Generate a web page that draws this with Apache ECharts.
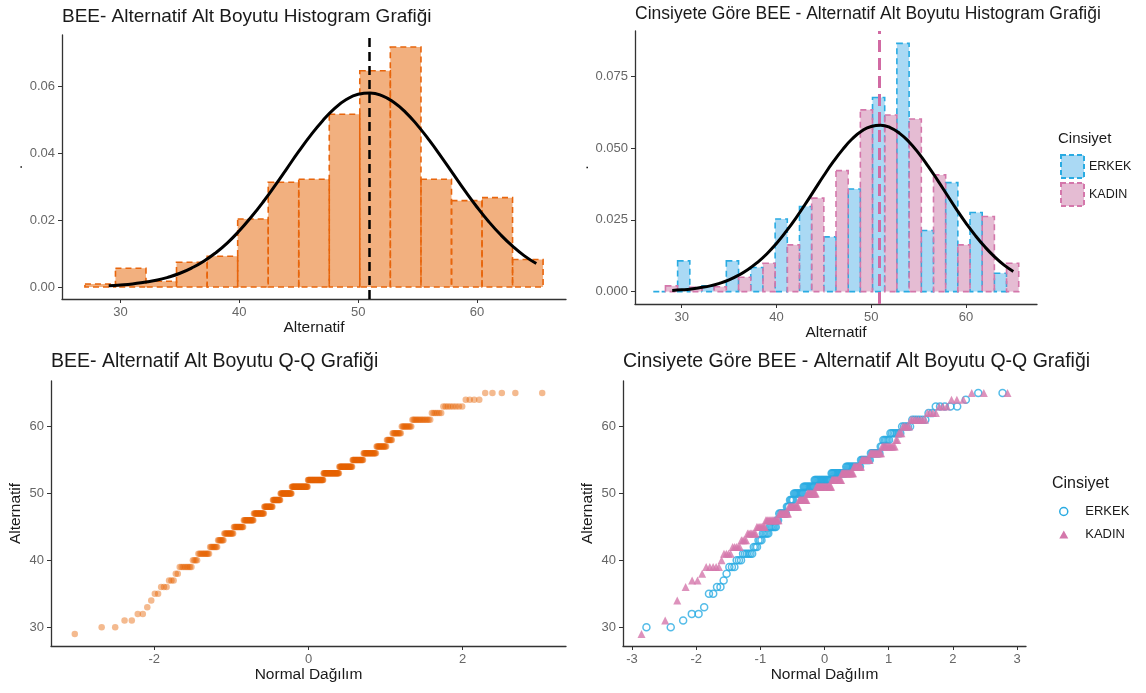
<!DOCTYPE html>
<html>
<head>
<meta charset="utf-8">
<title>BEE - Alternatif Alt Boyutu</title>
<script src="https://cdn.jsdelivr.net/npm/echarts@6/dist/echarts.min.js"></script>
<style>
  html, body { margin: 0; padding: 0; background: #fff; }
  #main { width: 1146px; height: 693px; }
</style>
</head>
<body>
<div id="main"></div>
<script>
// histogram bins on Alternatif (15 bins)
var binEdges = [27.0, 29.57, 32.14, 34.71, 37.29, 39.86, 42.43, 45.0, 47.57, 50.14, 52.71, 55.29, 57.86, 60.43, 63.0, 65.57];
var histDensity  = [0.0009, 0.0056, 0.0017, 0.0074, 0.0092, 0.0203, 0.0313, 0.0322, 0.0516, 0.0646, 0.0717, 0.0322, 0.0258, 0.0267, 0.0082];
var erkekDensity = [0, 0.0107, 0.0020, 0.0107, 0.0084, 0.0253, 0.0297, 0.0191, 0.0358, 0.0677, 0.0866, 0.0213, 0.0380, 0.0276, 0.0064];
var kadinDensity = [0.0020, 0.0015, 0.0017, 0.0050, 0.0099, 0.0163, 0.0326, 0.0422, 0.0634, 0.0616, 0.0602, 0.0407, 0.0163, 0.0262, 0.0099];

var curveX = [29, 30, 31, 32, 33, 34, 35, 36, 37, 38, 39, 40, 41, 42, 43, 44, 45, 46, 47,
              48, 49, 50, 51, 52, 53, 54, 55, 56, 57, 58, 59, 60, 61, 62, 63, 64, 65];
var curveY = [0.0004, 0.0006, 0.0009, 0.0014, 0.0020, 0.0029, 0.0041, 0.0057, 0.0077, 0.0102,
              0.0132, 0.0168, 0.0209, 0.0254, 0.0303, 0.0354, 0.0405, 0.0453, 0.0496, 0.0533,
              0.0560, 0.0576, 0.0580, 0.0572, 0.0552, 0.0522, 0.0483, 0.0438, 0.0389, 0.0338,
              0.0287, 0.0239, 0.0195, 0.0156, 0.0122, 0.0093, 0.0070];
var meanAll = 50.9;

// Q-Q: number of students with each score, by gender
var scores      = [29, 30, 31, 32, 33, 34, 35, 36, 37, 38, 39, 40, 41, 42, 43, 44, 45, 46, 47,
                   48, 49, 50, 51, 52, 53, 54, 55, 56, 57, 58, 59, 60, 61, 62, 63, 64, 65];
var erkekCounts = [0, 2, 1, 2, 1, 0, 2, 2, 1, 1, 3, 3, 6, 3, 3, 5, 6, 2, 7,
                   3, 4, 10, 12, 19, 16, 15, 9, 8, 2, 5, 7, 5, 6, 2, 5, 1, 2];
var kadinCounts = [1, 0, 1, 0, 0, 1, 0, 1, 2, 1, 5, 1, 4, 5, 4, 7, 8, 14, 11,
                   13, 11, 13, 22, 14, 16, 10, 10, 12, 12, 2, 3, 5, 8, 4, 3, 3, 3];

// tick labels
var histXTicks = [30, 40, 50, 60];
var hist1YTicks = [0, 0.02, 0.04, 0.06];
var hist2YTicks = [0, 0.025, 0.05, 0.075];
var qq1XTicks = [-2, 0, 2];
var qq2XTicks = [-3, -2, -1, 0, 1, 2, 3];
var qqYTicks = [30, 40, 50, 60];

var FONT = '"Liberation Sans", Arial, sans-serif';
var BLUE = '#29ABE2', PINK = '#D477AB';

// inverse normal cdf (Acklam) for theoretical quantiles
function qnorm(p) {
  var a = [-39.69683028665376, 220.9460984245205, -275.9285104469687, 138.3577518672690, -30.66479806614716, 2.506628277459239];
  var b = [-54.47609879822406, 161.5858368580409, -155.6989798598866, 66.80131188771972, -13.28068155288572];
  var c = [-0.007784894002430293, -0.3223964580411365, -2.400758277161838, -2.549671010229583, 4.374664141464968, 2.938163982698783];
  var d = [0.007784695709041462, 0.3224671290700398, 2.445134137142996, 3.754408661907416];
  var q, r;
  if (p < 0.02425) {
    q = Math.sqrt(-2 * Math.log(p));
    return (((((c[0]*q+c[1])*q+c[2])*q+c[3])*q+c[4])*q+c[5]) / ((((d[0]*q+d[1])*q+d[2])*q+d[3])*q+1);
  }
  if (p > 1 - 0.02425) {
    q = Math.sqrt(-2 * Math.log(1 - p));
    return -(((((c[0]*q+c[1])*q+c[2])*q+c[3])*q+c[4])*q+c[5]) / ((((d[0]*q+d[1])*q+d[2])*q+d[3])*q+1);
  }
  q = p - 0.5; r = q * q;
  return (((((a[0]*r+a[1])*r+a[2])*r+a[3])*r+a[4])*r+a[5])*q / (((((b[0]*r+b[1])*r+b[2])*r+b[3])*r+b[4])*r+1);
}

function qqPoints(counts) {
  var vals = [];
  counts.forEach(function (c, i) { for (var k = 0; k < c; k++) vals.push(scores[i]); });
  var n = vals.length;
  return vals.map(function (v, i) { return [qnorm((i + 0.5) / n), v]; });
}
var allCounts = scores.map(function (s, i) { return erkekCounts[i] + kadinCounts[i]; });

// [from, to, density] for each bar
function histItems(dens, part) {
  return dens.map(function (h, i) {
    var lo = binEdges[i], hi = binEdges[i + 1], mid = (lo + hi) / 2;
    if (part === 'left') return [lo, mid, h];
    if (part === 'right') return [mid, hi, h];
    return [lo, hi, h];
  });
}
function barRenderer(fill, stroke) {
  return function (params, api) {
    var p0 = api.coord([api.value(0), api.value(2)]);
    var p1 = api.coord([api.value(1), 0]);
    return {
      type: 'rect',
      shape: { x: p0[0], y: p0[1], width: p1[0] - p0[0], height: p1[1] - p0[1] },
      style: { fill: fill, stroke: stroke, lineWidth: 1.6, lineDash: [6, 4] }
    };
  };
}

function axis(grid, min, max, ticks, fmt, extra) {
  var ax = {
    type: 'value', gridIndex: grid, min: min, max: max,
    splitLine: { show: false },
    axisLine: { show: true, onZero: false, lineStyle: { color: '#333', width: 1.3 } },
    axisTick: { show: true, length: 4, customValues: ticks, lineStyle: { color: '#333' } },
    axisLabel: { customValues: ticks, formatter: fmt, color: '#666', fontSize: 13, margin: 7, fontFamily: FONT },
    nameLocation: 'middle',
    nameTextStyle: { color: '#1a1a1a', fontSize: 15.5, fontFamily: FONT }
  };
  for (var k in extra) ax[k] = extra[k];
  return ax;
}
function fixed(n) { return function (v) { return v.toFixed(n); }; }
function plain(v) { return String(v); }

var chart = echarts.init(document.getElementById('main'));

var titleStyle = function (size) {
  return { fontSize: size, fontWeight: 'normal', color: '#1a1a1a', fontFamily: FONT };
};

var option = {
  backgroundColor: '#fff',
  animation: false,
  title: [
    { text: 'BEE- Alternatif Alt Boyutu Histogram Grafiği', left: 62, top: 7, padding: 0, textStyle: titleStyle(19) },
    { text: 'Cinsiyete Göre BEE - Alternatif Alt Boyutu Histogram Grafiği', left: 635, top: 5, padding: 0, textStyle: titleStyle(17.5) },
    { text: 'BEE- Alternatif Alt Boyutu Q-Q Grafiği', left: 51, top: 352, padding: 0, textStyle: titleStyle(19.5) },
    { text: 'Cinsiyete Göre BEE - Alternatif Alt Boyutu Q-Q Grafiği', left: 623, top: 352, padding: 0, textStyle: titleStyle(19.5) },
    { text: 'Cinsiyet', left: 1058, top: 131, padding: 0, textStyle: titleStyle(15) },
    { text: 'Cinsiyet', left: 1052, top: 476, padding: 0, textStyle: titleStyle(16) }
  ],
  legend: [
    {
      orient: 'vertical', left: 1060, top: 154, padding: 0,
      itemWidth: 23, itemHeight: 23, itemGap: 3,
      textStyle: { fontSize: 12.5, color: '#1a1a1a', fontFamily: FONT },
      data: [
        { name: 'ERKEK', icon: 'rect', itemStyle: { color: 'rgba(86,180,233,0.5)', borderColor: BLUE, borderWidth: 2, borderType: [5, 3] } },
        { name: 'KADIN', icon: 'rect', itemStyle: { color: 'rgba(204,121,167,0.5)', borderColor: PINK, borderWidth: 2, borderType: [5, 3] } }
      ],
      selectedMode: false
    },
    {
      orient: 'vertical', left: 1059, top: 505, padding: 0,
      itemWidth: 9, itemHeight: 8, itemGap: 10,
      textStyle: { fontSize: 13, color: '#1a1a1a', fontFamily: FONT, padding: [0, 0, 0, 12] },
      data: [
        { name: 'ERKEK', icon: 'circle', itemStyle: { color: 'rgba(0,0,0,0)', borderColor: BLUE, borderWidth: 1.5 } },
        { name: 'KADIN', icon: 'triangle', itemStyle: { color: PINK, borderWidth: 0 } }
      ],
      selectedMode: false
    }
  ],
  grid: [
    { left: 62, top: 35, width: 504, height: 264 },
    { left: 635, top: 31, width: 402, height: 273 },
    { left: 51, top: 381, width: 515, height: 265 },
    { left: 623, top: 381, width: 403, height: 265 }
  ],
  xAxis: [
    axis(0, 25.07, 67.5, histXTicks, plain, { name: 'Alternatif', nameGap: 21 }),
    axis(1, 25.07, 67.5, histXTicks, plain, { name: 'Alternatif', nameGap: 21 }),
    axis(2, -3.34, 3.34, qq1XTicks, plain, { name: 'Normal Dağılım', nameGap: 21 }),
    axis(3, -3.14, 3.14, qq2XTicks, plain, { name: 'Normal Dağılım', nameGap: 21 })
  ],
  yAxis: [
    axis(0, -0.00359, 0.0753, hist1YTicks, fixed(2), { name: '.', nameGap: 36 }),
    axis(1, -0.00433, 0.0909, hist2YTicks, fixed(3), { name: '.', nameGap: 40 }),
    axis(2, 27.2, 66.8, qqYTicks, plain, { name: 'Alternatif', nameGap: 27 }),
    axis(3, 27.2, 66.8, qqYTicks, plain, { name: 'Alternatif', nameGap: 27 })
  ],
  series: [
    {
      type: 'custom', name: 'hist', xAxisIndex: 0, yAxisIndex: 0,
      renderItem: barRenderer('rgba(230,97,0,0.5)', '#E8650C'),
      encode: { x: [0, 1], y: 2 },
      data: histItems(histDensity)
    },
    {
      type: 'line', name: 'curve1', xAxisIndex: 0, yAxisIndex: 0, z: 5,
      smooth: true, showSymbol: false, silent: true,
      lineStyle: { color: '#000', width: 3 },
      data: curveX.map(function (x, i) { return [x, curveY[i]]; }),
      markLine: {
        silent: true, symbol: ['none', 'none'], label: { show: false },
        lineStyle: { color: '#000', type: [9, 5], width: 2.5 },
        data: [{ xAxis: meanAll }]
      }
    },
    {
      type: 'custom', name: 'ERKEK', xAxisIndex: 1, yAxisIndex: 1,
      renderItem: barRenderer('rgba(86,180,233,0.5)', BLUE),
      encode: { x: [0, 1], y: 2 },
      data: histItems(erkekDensity, 'left')
    },
    {
      type: 'custom', name: 'KADIN', xAxisIndex: 1, yAxisIndex: 1,
      renderItem: barRenderer('rgba(204,121,167,0.5)', PINK),
      encode: { x: [0, 1], y: 2 },
      data: histItems(kadinDensity, 'right')
    },
    {
      type: 'line', name: 'curve2', xAxisIndex: 1, yAxisIndex: 1, z: 5,
      smooth: true, showSymbol: false, silent: true,
      lineStyle: { color: '#000', width: 3 },
      data: curveX.map(function (x, i) { return [x, curveY[i]]; }),
      markLine: {
        silent: true, symbol: ['none', 'none'], label: { show: false },
        lineStyle: { color: '#D16AA3', type: [12, 6], width: 3 },
        data: [{ xAxis: meanAll }]
      }
    },
    {
      type: 'scatter', name: 'qqAll', xAxisIndex: 2, yAxisIndex: 2,
      symbolSize: 6.5,
      itemStyle: { color: 'rgba(230,97,0,0.55)' },
      data: qqPoints(allCounts)
    },
    {
      type: 'scatter', name: 'ERKEK', xAxisIndex: 3, yAxisIndex: 3,
      symbol: 'circle', symbolSize: 7,
      itemStyle: { color: 'rgba(0,0,0,0)', borderColor: BLUE, borderWidth: 1.5 },
      data: qqPoints(erkekCounts)
    },
    {
      type: 'scatter', name: 'KADIN', xAxisIndex: 3, yAxisIndex: 3,
      symbol: 'triangle', symbolSize: 8,
      itemStyle: { color: PINK },
      data: qqPoints(kadinCounts)
    }
  ]
};

chart.setOption(option);
</script>
</body>
</html>
